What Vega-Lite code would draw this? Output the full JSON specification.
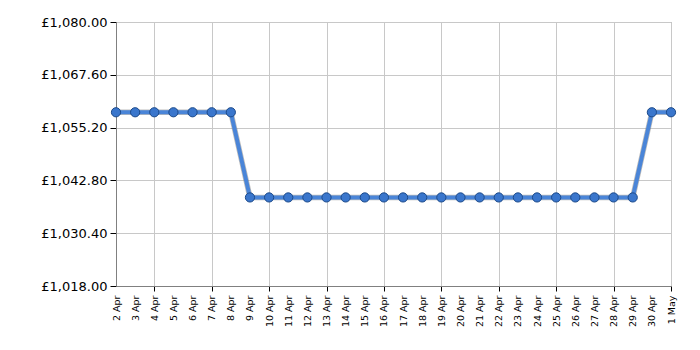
{
  "$schema": "https://vega.github.io/schema/vega-lite/v6.json",
  "width": 555,
  "height": 264,
  "autosize": "none",
  "padding": {"left": 116, "top": 22, "right": 29, "bottom": 64},
  "background": "white",
  "config": {
    "view": {"stroke": "#a0a0a0", "strokeWidth": 1},
    "font": "DejaVu Sans"
  },
  "data": {
    "values": [
      {"day": "2 Apr", "price": 1058.8},
      {"day": "3 Apr", "price": 1058.8},
      {"day": "4 Apr", "price": 1058.8},
      {"day": "5 Apr", "price": 1058.8},
      {"day": "6 Apr", "price": 1058.8},
      {"day": "7 Apr", "price": 1058.8},
      {"day": "8 Apr", "price": 1058.8},
      {"day": "9 Apr", "price": 1038.8},
      {"day": "10 Apr", "price": 1038.8},
      {"day": "11 Apr", "price": 1038.8},
      {"day": "12 Apr", "price": 1038.8},
      {"day": "13 Apr", "price": 1038.8},
      {"day": "14 Apr", "price": 1038.8},
      {"day": "15 Apr", "price": 1038.8},
      {"day": "16 Apr", "price": 1038.8},
      {"day": "17 Apr", "price": 1038.8},
      {"day": "18 Apr", "price": 1038.8},
      {"day": "19 Apr", "price": 1038.8},
      {"day": "20 Apr", "price": 1038.8},
      {"day": "21 Apr", "price": 1038.8},
      {"day": "22 Apr", "price": 1038.8},
      {"day": "23 Apr", "price": 1038.8},
      {"day": "24 Apr", "price": 1038.8},
      {"day": "25 Apr", "price": 1038.8},
      {"day": "26 Apr", "price": 1038.8},
      {"day": "27 Apr", "price": 1038.8},
      {"day": "28 Apr", "price": 1038.8},
      {"day": "29 Apr", "price": 1038.8},
      {"day": "30 Apr", "price": 1058.8},
      {"day": "1 May", "price": 1058.8}
    ]
  },
  "encoding": {
    "x": {
      "field": "day",
      "type": "ordinal",
      "sort": null,
      "scale": {"type": "point", "padding": 0},
      "axis": {
        "title": null,
        "labelAngle": 270,
        "labelFontSize": 9.5,
        "labelColor": "#000000",
        "labelPadding": 4,
        "domainColor": "#808080",
        "tickColor": "#000000",
        "tickSize": 5,
        "tickOpacity": {"condition": {"test": "parseInt(datum.value) % 3 == 1", "value": 1}, "value": 0},
        "grid": true,
        "gridColor": "#c8c8c8",
        "gridOpacity": {"condition": {"test": "parseInt(datum.value) % 3 == 1", "value": 1}, "value": 0}
      }
    },
    "y": {
      "field": "price",
      "type": "quantitative",
      "scale": {"domain": [1018, 1080], "nice": false, "zero": false},
      "axis": {
        "title": null,
        "values": [1018, 1030.4, 1042.8, 1055.2, 1067.6, 1080],
        "labelExpr": "'£' + format(datum.value, ',.2f')",
        "labelFontSize": 13,
        "labelColor": "#000000",
        "labelPadding": 3,
        "domainColor": "#808080",
        "tickColor": "#000000",
        "tickSize": 6,
        "grid": true,
        "gridColor": "#c8c8c8"
      }
    }
  },
  "layer": [
    {"mark": {"type": "line", "color": "#7a7a7a", "strokeWidth": 5.5, "opacity": 0.5}},
    {"mark": {"type": "line", "color": "#4a85d8", "strokeWidth": 4}},
    {"mark": {"type": "point", "filled": true, "size": 85, "color": "#3a76cc", "stroke": "#1c4a8a", "strokeWidth": 1, "opacity": 1}}
  ]
}
